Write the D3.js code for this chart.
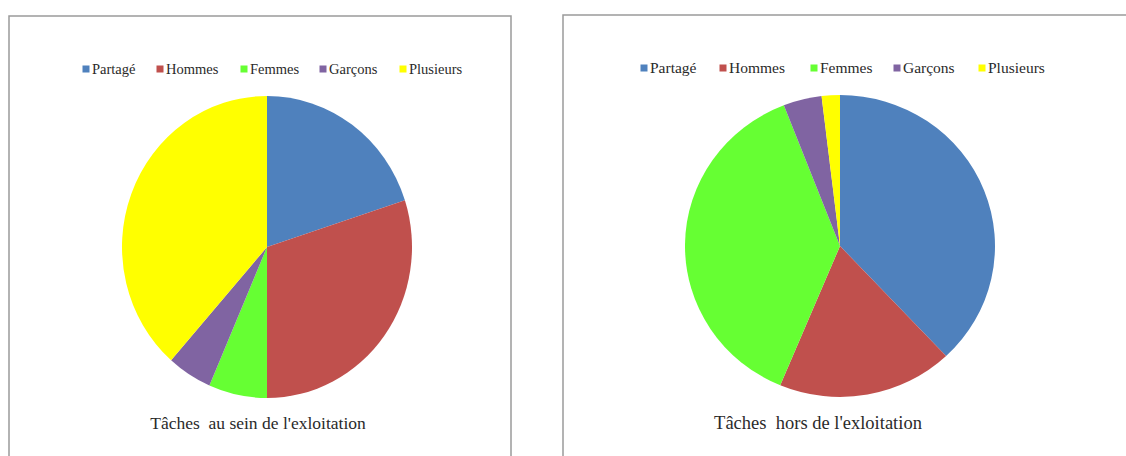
<!DOCTYPE html>
<html>
<head>
<meta charset="utf-8">
<script src="https://cdn.jsdelivr.net/npm/d3@7"></script>
<style>
  html, body { margin: 0; padding: 0; background: #fff; }
  svg { display: block; }
</style>
</head>
<body>
<svg id="chart" width="1126" height="456"></svg>
<script>
// Répartition des tâches (en %)
const categories = ["Partagé", "Hommes", "Femmes", "Garçons", "Plusieurs"];
const colors = ["#4F81BD", "#C0504D", "#66FF33", "#8064A2", "#FFFF00"];
const valuesInside = [20, 30, 6.5, 5, 38.5];
const valuesOutside = [38, 18.3, 37.8, 4, 1.9];
const titles = ["Tâches  au sein de l'exloitation", "Tâches  hors de l'exloitation"];

const svg = d3.select("#chart");
const color = d3.scaleOrdinal().domain(categories).range(colors);

const panels = [
  { values: valuesInside, title: titles[0], box: [9, 16, 502, 460],
    cx: 267, cy: 247, rx: 145, ry: 151,
    legendX: [86, 160, 244, 323, 403], legendY: 69, legendSize: 14.5,
    titleX: 258, titleSize: 17.5 },
  { values: valuesOutside, title: titles[1], box: [563, 15, 580, 460],
    cx: 840, cy: 246, rx: 155, ry: 151,
    legendX: [644, 723, 814, 897, 982], legendY: 68, legendSize: 15.5,
    titleX: 818, titleSize: 18.5 }
];

const pie = d3.pie().sort(null).value(d => d.value);

panels.forEach(p => {
  // cadre du graphique
  svg.append("rect")
    .attr("x", p.box[0]).attr("y", p.box[1])
    .attr("width", p.box[2]).attr("height", p.box[3])
    .attr("fill", "#fff").attr("stroke", "#9a9a9a").attr("stroke-width", 1.5);

  const data = categories.map((c, i) => ({ cat: c, value: p.values[i] }));
  const R = p.ry;
  const arc = d3.arc().innerRadius(0).outerRadius(R);

  const g = svg.append("g")
    .attr("transform", `translate(${p.cx},${p.cy}) scale(${p.rx / p.ry},1)`);

  g.selectAll("path")
    .data(pie(data))
    .join("path")
    .attr("d", arc)
    .attr("fill", d => color(d.data.cat))
    .attr("stroke", "none");

  // légende
  const lg = svg.append("g")
    .attr("font-family", "'Liberation Serif', 'Times New Roman', serif")
    .attr("font-size", p.legendSize)
    .attr("fill", "#2a2a2a");

  const items = lg.selectAll("g")
    .data(categories)
    .join("g")
    .attr("transform", (d, i) => `translate(${p.legendX[i]},${p.legendY})`);

  items.append("rect")
    .attr("x", -3.5).attr("y", -3.5)
    .attr("width", 7).attr("height", 7)
    .attr("fill", d => color(d));

  items.append("text")
    .attr("x", 6).attr("y", 0)
    .attr("dy", "0.35em")
    .text(d => d);

  // titre
  svg.append("text")
    .attr("x", p.titleX).attr("y", 423)
    .attr("dy", "0.35em")
    .attr("text-anchor", "middle")
    .attr("font-family", "'Liberation Serif', 'Times New Roman', serif")
    .attr("font-size", p.titleSize)
    .attr("fill", "#2a2a2a")
    .style("white-space", "pre")
    .text(p.title);
});
</script>
</body>
</html>
